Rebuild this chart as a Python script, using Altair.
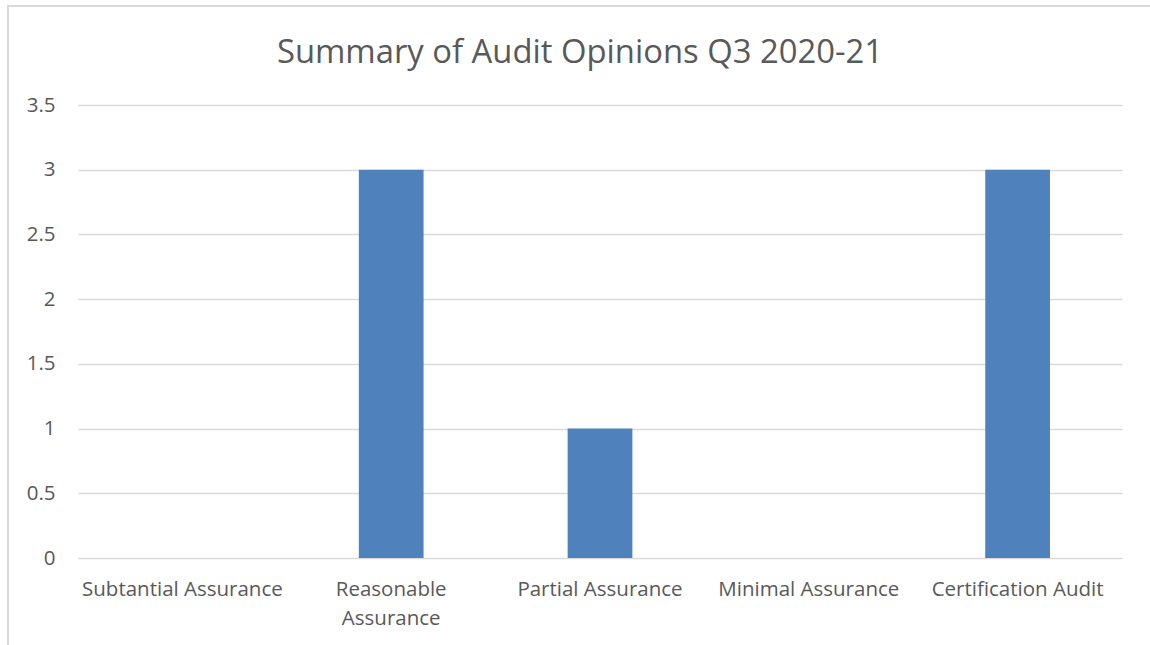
import altair as alt
import pandas as pd

categories = ["Subtantial Assurance", "Reasonable Assurance", "Partial Assurance",
              "Minimal Assurance", "Certification Audit"]
values = [0, 3, 1, 0, 3]
y_ticks = [0, 0.5, 1, 1.5, 2, 2.5, 3, 3.5]
title_text = "Summary of Audit Opinions Q3 2020-21"

df = pd.DataFrame({"category": categories, "value": values})
title_df = pd.DataFrame({"t": [title_text]})

FONT = "Open Sans"
W, H = 1044, 453

bars = alt.Chart(df).mark_bar(color="#4F81BD").encode(
    x=alt.X("category:N", sort=categories,
            scale=alt.Scale(paddingInner=0.69, paddingOuter=0.345),
            axis=alt.Axis(title=None, labelAngle=0, domain=False, ticks=False,
                          labelFont=FONT, labelFontSize=20.5, labelColor="#595959",
                          labelPadding=21, labelLimit=240, labelLineHeight=29,
                          labelExpr="datum.label == 'Reasonable Assurance' ? ['Reasonable', 'Assurance'] : datum.label")),
    y=alt.Y("value:Q", scale=alt.Scale(domain=[0, 3.5], nice=False),
            axis=alt.Axis(title=None, values=y_ticks, format="~g", domain=False, ticks=False,
                          grid=True, gridColor="#d9d9d9", gridWidth=1.5,
                          labelFont=FONT, labelFontSize=20.5, labelColor="#595959",
                          labelPadding=23)),
)

title_mark = alt.Chart(title_df).mark_text(
    font=FONT, fontSize=32.8, color="#595959", align="center", baseline="alphabetic"
).encode(text="t:N", x=alt.value(502), y=alt.value(-42))

border_left = alt.Chart(df).mark_rule(color="#d9d9d9", strokeWidth=2).encode(
    x=alt.value(-70), y=alt.value(-100), y2=alt.value(H + 100))
border_top = alt.Chart(df).mark_rule(color="#d9d9d9", strokeWidth=2).encode(
    x=alt.value(-71), x2=alt.value(W + 40), y=alt.value(-99))

chart = alt.layer(border_left, border_top, bars, title_mark).properties(
    width=W, height=H,
    autosize=alt.AutoSizeParams(type="none"),
    padding={"left": 78, "top": 105, "right": 28, "bottom": 87},
).configure_view(stroke=None)

chart.save("out.html", embed_options={"renderer": "svg", "actions": False})
